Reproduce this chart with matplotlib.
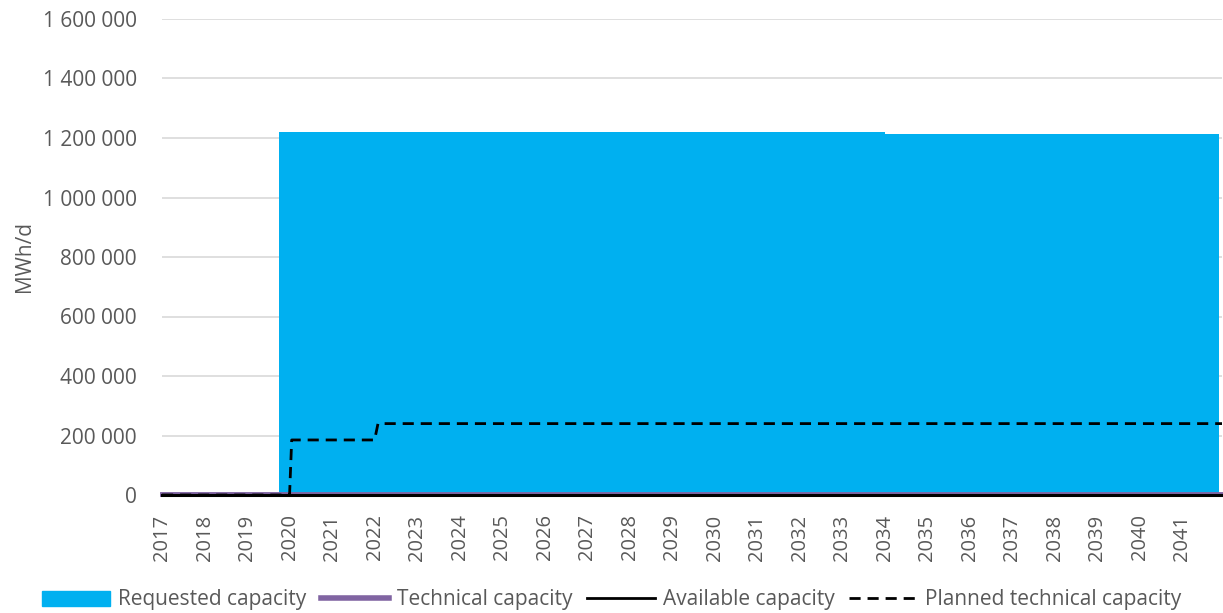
import matplotlib
matplotlib.use("Agg")
import matplotlib.pyplot as plt
from matplotlib.patches import Patch
from matplotlib.lines import Line2D
from matplotlib.ticker import FuncFormatter, MultipleLocator

# period boundaries (fractional years) and values, MWh/d
requested_x = [2017.0, 2019.75, 2034.0, 2041.85]
requested_y = [0, 1220000, 1215000, 1215000]

technical_x = [2017.0, 2041.93]
technical_y = [2000, 2000]

available_x = [2017.0, 2041.93]
available_y = [0, 0]

planned_x = [2017.0, 2020.0, 2020.05, 2022.0, 2022.08, 2041.93]
planned_y = [0, 0, 185000, 185000, 240000, 240000]

years = list(range(2017, 2042))

plt.rcParams['font.family'] = ['Open Sans', 'DejaVu Sans']
GREY = '#595959'
DASH = (0, (4, 2.5))

fig = plt.figure(figsize=(12.23, 6.13), dpi=100)
ax = fig.add_axes([162 / 1223, 1 - 495 / 613, (1222 - 162) / 1223, (495 - 19) / 613])

ax.fill_between(requested_x, requested_y, step='post', color='#00b0f0', lw=0, zorder=2)
ax.plot(technical_x, technical_y, color='#8064a2', lw=3.5, zorder=3, clip_on=False)
ax.plot(available_x, available_y, color='black', lw=2.2, zorder=4, clip_on=False)
ax.plot(planned_x, planned_y, color='black', lw=2, ls=DASH, zorder=5, clip_on=False)

ax.set_xlim(2017.0, 2041.93)
ax.set_ylim(0, 1600000)
ax.set_xticks(years)
ax.set_xticklabels([str(y) for y in years], rotation=90, fontsize=14.5, color=GREY)
ax.yaxis.set_major_locator(MultipleLocator(200000))
ax.yaxis.set_major_formatter(FuncFormatter(lambda v, p: f"{int(v):,}".replace(",", " ")))
ax.tick_params(axis='y', labelsize=15, labelcolor=GREY, length=0, pad=18)
ax.tick_params(axis='x', length=0, pad=14)
ax.grid(axis='y', color='#d9d9d9', lw=1.2, zorder=0)
ax.set_axisbelow(True)
for s in ax.spines.values():
    s.set_visible(False)
ax.set_ylabel("MWh/d", fontsize=15, color=GREY, labelpad=6)

handles = [
    Patch(color='#00b0f0'),
    Line2D([], [], color='#8064a2', lw=4),
    Line2D([], [], color='black', lw=2),
    Line2D([], [], color='black', lw=2, ls=DASH),
]
labels = ["Requested capacity", "Technical capacity", "Available capacity", "Planned technical capacity"]
fig.legend(handles, labels, loc='center', bbox_to_anchor=(0.5, 1 - 600 / 613), ncol=4,
           frameon=False, fontsize=15, labelcolor=GREY, handlelength=3.3, handletextpad=0.35,
           columnspacing=0.7)

fig.savefig("out.png", dpi=100)
